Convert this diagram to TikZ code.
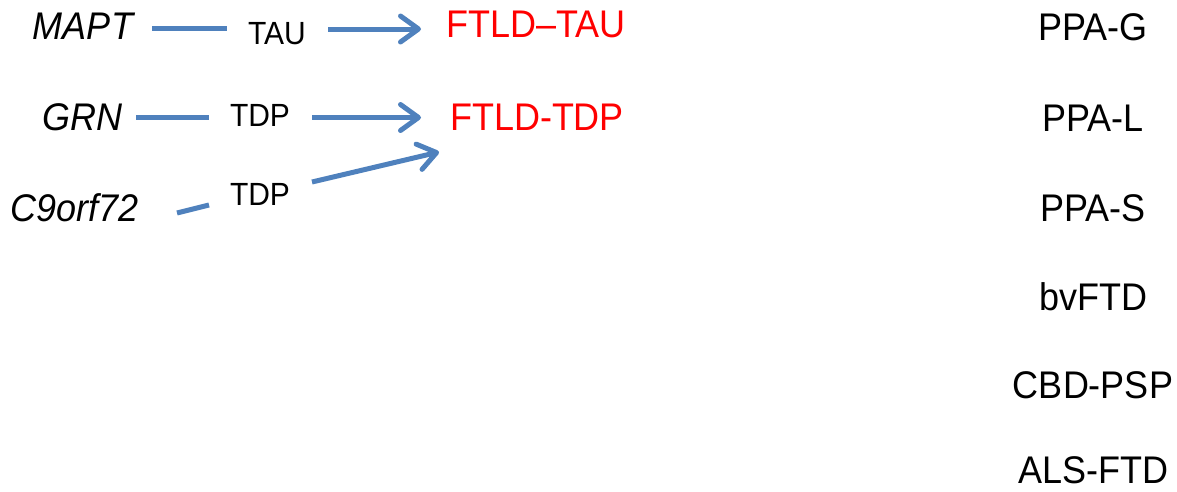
\documentclass[tikz,border=0pt]{standalone}
\usepackage{fontspec}
\usepackage{graphicx}
\setmainfont{Liberation Sans}
\usetikzlibrary{arrows.meta}
\definecolor{arrowblue}{HTML}{4F81BD}
\definecolor{ftldred}{HTML}{FF0000}
\newcommand{\tallertext}[1]{\scalebox{1}[1.07]{#1}}
\begin{document}
\begin{tikzpicture}[x=1pt,y=-1pt,
  big/.style={anchor=base,inner sep=0pt,font=\fontsize{36}{40}\selectfont},
  small/.style={anchor=base,inner sep=0pt,font=\fontsize{30}{34}\selectfont},
  gene/.style={anchor=base,inner sep=0pt,font=\fontsize{36}{40}\selectfont\itshape},
  disease/.style={big,text=ftldred},
  link/.style={draw=arrowblue,line width=5pt},
  arrowlink/.style={link,-{Straight Barb[length=18pt,width=26pt,round]}}]
\useasboundingbox (0,0) rectangle (1177,491);
% genes
\node[gene] (mapt) at (83,39) {\tallertext{MAPT}};
\node[gene] (grn) at (82,130) {\tallertext{GRN}};
\node[gene] (c9) at (75,221) {\tallertext{C9orf72}};
% proteins
\node[small] (tau) at (277,44) {\tallertext{TAU}};
\node[small] (tdpA) at (260,126) {\tallertext{TDP}};
\node[small] (tdpB) at (260,205) {\tallertext{TDP}};
% pathology
\node[disease] (ftldtau) at (536,37) {\tallertext{FTLD–TAU}};
\node[disease] (ftldtdp) at (537,130) {\tallertext{FTLD-TDP}};
% syndromes
\node[big] (ppag) at (1093,40) {\tallertext{PPA-G}};
\node[big] (ppal) at (1093,131) {\tallertext{PPA-L}};
\node[big] (ppas) at (1093,221) {\tallertext{PPA-S}};
\node[big] (bvftd) at (1093,310) {\tallertext{bvFTD}};
\node[big] (cbd) at (1093,398) {\tallertext{CBD-PSP}};
\node[big] (als) at (1093,483) {\tallertext{ALS-FTD}};
% connector end points
\coordinate (maptR) at (152,28.5);
\coordinate (tauL) at (227,28.5);
\coordinate (tauR) at (328,29);
\coordinate (ftldtauL) at (421,29);
\coordinate (grnR) at (136,117);
\coordinate (tdpAL) at (209,117);
\coordinate (tdpAR) at (312,117.5);
\coordinate (ftldtdpL) at (421,117.5);
\coordinate (c9R) at (177,213);
\coordinate (tdpBL) at (209,205);
\coordinate (tdpBR) at (312,182);
\coordinate (ftldtdpB) at (439,152);
\draw[link] (maptR) -- (tauL);
\draw[arrowlink] (tauR) -- (ftldtauL);
\draw[link] (grnR) -- (tdpAL);
\draw[arrowlink] (tdpAR) -- (ftldtdpL);
\draw[link] (c9R) -- (tdpBL);
\draw[arrowlink] (tdpBR) -- (ftldtdpB);
\end{tikzpicture}
\end{document}
